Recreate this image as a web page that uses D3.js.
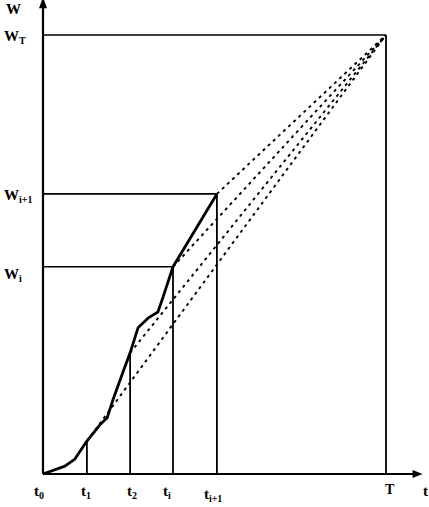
<!DOCTYPE html>
<html><head><meta charset="utf-8">
<script src="https://cdn.jsdelivr.net/npm/d3@7"></script>
<style>html,body{margin:0;padding:0;background:#fff}svg{display:block}
text{font-family:"Liberation Serif","DejaVu Serif",serif;font-weight:bold;fill:#000}</style>
</head><body><svg id="c" width="429" height="507"></svg>
<script>
// Data (t in units of T/10, W in units of W_T/10)
const T = 10, WT = 10;
const curveT = [0, 0.64, 0.93, 1.28, 1.66, 1.87, 2.04, 2.33, 2.54, 2.77, 3.06, 3.35, 3.50, 3.79, 5.07];
const curveW = [0, 0.18, 0.34, 0.75, 1.12, 1.28, 1.69, 2.32, 2.76, 3.33, 3.55, 3.69, 4.03, 4.72, 6.38];
const markT = [1.28, 2.54, 3.79, 5.07];
const markW = [0.75, 2.76, 4.72, 6.38];
const xLabels = [["t","0"],["t","1"],["t","2"],["t","i"],["t","i+1"]];
const xLabelT = [0, 1.28, 2.54, 3.79, 5.07];
const yLabels = [["W","T"],["W","i+1"],["W","i"]];
const yLabelW = [10, 6.38, 4.72];

const svg = d3.select("#c");
const x = d3.scaleLinear().domain([0, T]).range([43, 386]);
const y = d3.scaleLinear().domain([0, WT]).range([474, 35]);
const xMax = 10.95, yMax = 10.7;

// axes
svg.append("line").attr("x1", x(0)).attr("x2", x(xMax)).attr("y1", y(0)).attr("y2", y(0))
  .attr("stroke", "#000").attr("stroke-width", 2);
svg.append("line").attr("x1", x(0)).attr("x2", x(0)).attr("y1", y(0)).attr("y2", y(yMax))
  .attr("stroke", "#000").attr("stroke-width", 2.2);
// arrows
const ax = x(xMax), ay = y(0);
svg.append("path").attr("d", `M${ax+4},${ay} L${ax-6},${ay-4} L${ax-6},${ay+4} Z`).attr("fill", "#000");
const bx = x(0), by = y(yMax);
svg.append("path").attr("d", `M${bx},${by-7} L${bx-4},${by+4} L${bx+4},${by+4} Z`).attr("fill", "#000");

// W_T lines
svg.append("line").attr("x1", x(0)).attr("x2", x(T)).attr("y1", y(WT)).attr("y2", y(WT))
  .attr("stroke", "#000").attr("stroke-width", 1.6);
svg.append("line").attr("x1", x(T)).attr("x2", x(T)).attr("y1", y(WT)).attr("y2", y(0))
  .attr("stroke", "#000").attr("stroke-width", 1.8);

// dashed lines to (T, WT)
markT.forEach((t, i) => {
  svg.append("line").attr("x1", x(t)).attr("y1", y(markW[i])).attr("x2", x(T)).attr("y2", y(WT))
    .attr("stroke", "#000").attr("stroke-width", 1.9).attr("stroke-dasharray", "3,4");
});

// vertical lines
markT.forEach((t, i) => {
  svg.append("line").attr("x1", x(t)).attr("x2", x(t)).attr("y1", y(markW[i])).attr("y2", y(0))
    .attr("stroke", "#000").attr("stroke-width", 1.8);
});
// horizontal lines for W_i, W_{i+1}
[2, 3].forEach(i => {
  svg.append("line").attr("x1", x(0)).attr("x2", x(markT[i])).attr("y1", y(markW[i])).attr("y2", y(markW[i]))
    .attr("stroke", "#000").attr("stroke-width", 1.6);
});

// curve
const pts = curveT.map((t, i) => [x(t), y(curveW[i])]);
svg.append("path").attr("d", d3.line()(pts)).attr("fill", "none")
  .attr("stroke", "#000").attr("stroke-width", 2.8).attr("stroke-linejoin", "round");

// labels
function lab(px, py, main, sub, size, subSize, anchor) {
  const t = svg.append("text").attr("x", px).attr("y", py).attr("font-size", size).attr("text-anchor", anchor || "start");
  t.append("tspan").text(main);
  if (sub) t.append("tspan").attr("font-size", subSize).attr("dy", 3).text(sub);
}
lab(6, 14, "W", null, 15);
const yOff = [6, 6, 12];
yLabels.forEach((l, i) => lab(4, y(yLabelW[i]) + yOff[i], l[0], l[1], 15, 10));
const xAdj = [-9, -6, -3, -10, -13];
xLabels.forEach((l, i) => lab(x(xLabelT[i]) + xAdj[i], 496 + (i === 4 ? 3 : 0), l[0], l[1], 15, 10));
lab(x(T) - 1, 494, "T", null, 14, null, "start");
lab(423, 496, "t", null, 15);
</script></body></html>
